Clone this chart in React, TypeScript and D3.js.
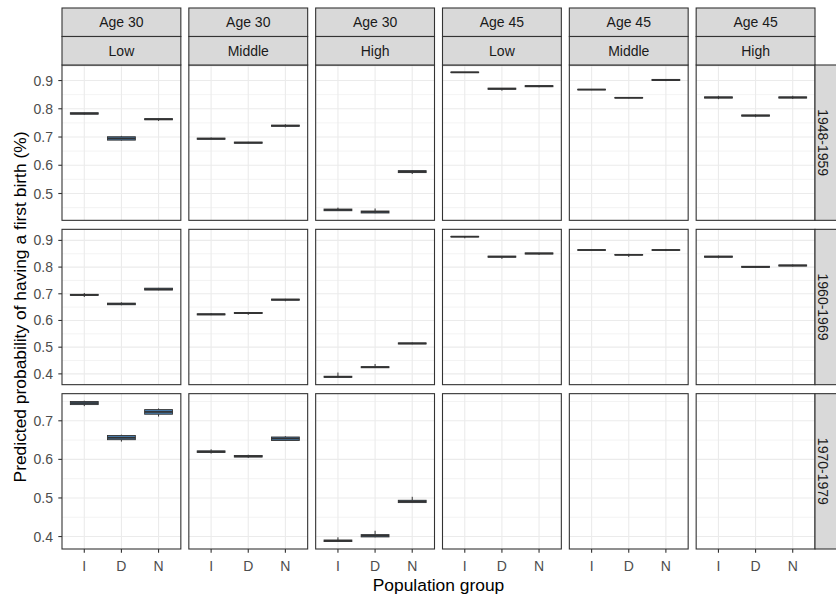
import * as d3 from "d3"
import { useRef, useEffect } from "react"

// facet labels
const ageLabels = ["Age 30", "Age 30", "Age 30", "Age 45", "Age 45", "Age 45"]
const eduLabels = ["Low", "Middle", "High", "Low", "Middle", "High"]
const cohorts = ["1948-1959", "1960-1969", "1970-1979"]
const groups = ["I", "D", "N"]

// major y ticks per cohort row
const yTicks = [
  [0.5, 0.6, 0.7, 0.8, 0.9],
  [0.4, 0.5, 0.6, 0.7, 0.8, 0.9],
  [0.4, 0.5, 0.6, 0.7],
]

type Box = [number, number, number, number, number] // lower, q1, median, q3, upper

// boxplot stats, one array per panel (groups I, D, N)
const cohort1948: (Box[] | null)[] = [
  [[0.779, 0.781, 0.783, 0.786, 0.787], [0.687, 0.689, 0.695, 0.701, 0.704], [0.757, 0.761, 0.763, 0.765, 0.766]],
  [[0.691, 0.692, 0.694, 0.696, 0.698], [0.676, 0.678, 0.68, 0.682, 0.683], [0.734, 0.738, 0.74, 0.742, 0.745]],
  [[0.438, 0.439, 0.442, 0.445, 0.45], [0.43, 0.431, 0.435, 0.438, 0.447], [0.569, 0.574, 0.577, 0.581, 0.583]],
  [[0.928, 0.928, 0.929, 0.93, 0.93], [0.864, 0.869, 0.871, 0.873, 0.873], [0.876, 0.878, 0.88, 0.882, 0.882]],
  [[0.866, 0.867, 0.868, 0.869, 0.87], [0.837, 0.838, 0.839, 0.84, 0.841], [0.898, 0.9, 0.902, 0.904, 0.904]],
  [[0.834, 0.838, 0.84, 0.842, 0.846], [0.77, 0.774, 0.776, 0.778, 0.78], [0.835, 0.838, 0.84, 0.842, 0.846]],
]
const cohort1960: (Box[] | null)[] = [
  [[0.688, 0.694, 0.696, 0.698, 0.703], [0.657, 0.659, 0.662, 0.665, 0.668], [0.713, 0.714, 0.717, 0.721, 0.722]],
  [[0.62, 0.621, 0.623, 0.625, 0.628], [0.621, 0.626, 0.628, 0.63, 0.632], [0.672, 0.676, 0.678, 0.68, 0.681]],
  [[0.386, 0.387, 0.389, 0.391, 0.405], [0.422, 0.423, 0.425, 0.427, 0.437], [0.511, 0.512, 0.514, 0.516, 0.518]],
  [[0.908, 0.913, 0.914, 0.915, 0.915], [0.831, 0.837, 0.839, 0.841, 0.841], [0.846, 0.849, 0.851, 0.853, 0.853]],
  [[0.862, 0.863, 0.864, 0.865, 0.865], [0.838, 0.845, 0.846, 0.847, 0.85], [0.86, 0.863, 0.864, 0.865, 0.868]],
  [[0.833, 0.837, 0.839, 0.841, 0.843], [0.797, 0.799, 0.801, 0.803, 0.803], [0.802, 0.804, 0.806, 0.808, 0.81]],
]
const cohort1970: (Box[] | null)[] = [
  [[0.738, 0.742, 0.746, 0.75, 0.752], [0.646, 0.651, 0.656, 0.662, 0.664], [0.711, 0.717, 0.723, 0.729, 0.732]],
  [[0.615, 0.618, 0.62, 0.622, 0.626], [0.604, 0.606, 0.608, 0.61, 0.612], [0.648, 0.649, 0.654, 0.658, 0.66]],
  [[0.386, 0.387, 0.389, 0.391, 0.398], [0.398, 0.399, 0.402, 0.405, 0.415], [0.487, 0.488, 0.491, 0.494, 0.503]],
  null,
  null,
  null,
]
const rows = [cohort1948, cohort1960, cohort1970]

export default function App() {
  const svgRef = useRef<SVGSVGElement>(null)

  useEffect(() => {
    if (!svgRef.current) return
    const width = 836
    const height = 598
    const svg = d3.select(svgRef.current)
    svg.selectAll("*").remove()
    svg.attr("width", width).attr("height", height)

    const font = "Arial, 'Liberation Sans', sans-serif"
    const left = 62
    const right = 815
    const top = 65
    const bottom = 549
    const gapX = 8
    const gapY = 9
    const nCol = 6
    const nRow = 3
    const pw = (right - left - gapX * (nCol - 1)) / nCol
    const ph = (bottom - top - gapY * (nRow - 1)) / nRow
    const stripH = 28.5
    const border = "#333333"
    const smallSize = "14px"
    const titleSize = "17.4px"

    rows.forEach((row, r) => {
      const y0 = top + r * (ph + gapY)
      const vals = row.flatMap((p) => (p ? p.flat() : []))
      const [mn, mx] = d3.extent(vals) as [number, number]
      const pad = (mx - mn) * 0.05
      const y = d3.scaleLinear().domain([mn - pad, mx + pad]).range([y0 + ph, y0])
      const majors = yTicks[r]
      const step = majors[1] - majors[0]
      const minors = d3
        .range(majors[0] - step / 2, majors[majors.length - 1] + step, step)
        .filter((v) => v > y.domain()[0] && v < y.domain()[1])

      for (let c = 0; c < nCol; c++) {
        const x0 = left + c * (pw + gapX)
        const x = d3.scalePoint<string>().domain(groups).range([x0, x0 + pw]).padding(0.6)
        const bw = x.step() * 0.75
        const g = svg.append("g")

        g.append("rect").attr("x", x0).attr("y", y0).attr("width", pw).attr("height", ph).attr("fill", "white")

        g.selectAll(".minor")
          .data(minors)
          .enter()
          .append("line")
          .attr("x1", x0)
          .attr("x2", x0 + pw)
          .attr("y1", (d) => y(d))
          .attr("y2", (d) => y(d))
          .attr("stroke", "#EBEBEB")
          .attr("stroke-width", 0.6)
        g.selectAll(".major")
          .data(majors)
          .enter()
          .append("line")
          .attr("x1", x0)
          .attr("x2", x0 + pw)
          .attr("y1", (d) => y(d))
          .attr("y2", (d) => y(d))
          .attr("stroke", "#EBEBEB")
          .attr("stroke-width", 1.1)
        g.selectAll(".vgrid")
          .data(groups)
          .enter()
          .append("line")
          .attr("x1", (d) => x(d)!)
          .attr("x2", (d) => x(d)!)
          .attr("y1", y0)
          .attr("y2", y0 + ph)
          .attr("stroke", "#EBEBEB")
          .attr("stroke-width", 1.1)

        const boxes = row[c]
        if (boxes) {
          boxes.forEach((b, i) => {
            const cx = x(groups[i])!
            const [lo, q1, med, q3, hi] = b
            g.append("line").attr("x1", cx).attr("x2", cx).attr("y1", y(q3)).attr("y2", y(hi))
              .attr("stroke", border).attr("stroke-width", 1)
            g.append("line").attr("x1", cx).attr("x2", cx).attr("y1", y(q1)).attr("y2", y(lo))
              .attr("stroke", border).attr("stroke-width", 1)
            g.append("rect")
              .attr("x", cx - bw / 2)
              .attr("y", y(q3))
              .attr("width", bw)
              .attr("height", y(q1) - y(q3))
              .attr("fill", "#4a7fb0")
              .attr("stroke", border)
              .attr("stroke-width", 0.9)
            g.append("line").attr("x1", cx - bw / 2).attr("x2", cx + bw / 2).attr("y1", y(med)).attr("y2", y(med))
              .attr("stroke", border).attr("stroke-width", 1.7)
          })
        }

        g.append("rect")
          .attr("x", x0)
          .attr("y", y0)
          .attr("width", pw)
          .attr("height", ph)
          .attr("fill", "none")
          .attr("stroke", border)
          .attr("stroke-width", 1.1)

        // top strips
        if (r === 0) {
          ;[ageLabels[c], eduLabels[c]].forEach((lab, k) => {
            const sy = 8 + k * stripH
            g.append("rect")
              .attr("x", x0)
              .attr("y", sy)
              .attr("width", pw)
              .attr("height", stripH)
              .attr("fill", "#D9D9D9")
              .attr("stroke", border)
              .attr("stroke-width", 1.1)
            g.append("text")
              .attr("x", x0 + pw / 2)
              .attr("y", sy + stripH / 2 + 5)
              .attr("text-anchor", "middle")
              .style("font-family", font)
              .style("font-size", smallSize)
              .style("fill", "#1A1A1A")
              .text(lab)
          })
        }

        // bottom x axis
        if (r === nRow - 1) {
          groups.forEach((gr) => {
            g.append("line").attr("x1", x(gr)!).attr("x2", x(gr)!).attr("y1", y0 + ph).attr("y2", y0 + ph + 3.7)
              .attr("stroke", border).attr("stroke-width", 1.1)
            g.append("text")
              .attr("x", x(gr)!)
              .attr("y", y0 + ph + 22)
              .attr("text-anchor", "middle")
              .style("font-family", font)
              .style("font-size", smallSize)
              .style("fill", "#4D4D4D")
              .text(gr)
          })
        }

        // left y axis
        if (c === 0) {
          majors.forEach((t) => {
            g.append("line").attr("x1", x0 - 3.7).attr("x2", x0).attr("y1", y(t)).attr("y2", y(t))
              .attr("stroke", border).attr("stroke-width", 1.1)
            g.append("text")
              .attr("x", x0 - 9)
              .attr("y", y(t) + 5)
              .attr("text-anchor", "end")
              .style("font-family", font)
              .style("font-size", smallSize)
              .style("fill", "#4D4D4D")
              .text(d3.format(".1f")(t))
          })
        }
      }

      // right strip
      svg.append("rect")
        .attr("x", right)
        .attr("y", y0)
        .attr("width", 26)
        .attr("height", ph)
        .attr("fill", "#D9D9D9")
        .attr("stroke", border)
        .attr("stroke-width", 1.1)
      svg.append("text")
        .attr("transform", `translate(${right + 3},${y0 + ph / 2}) rotate(90)`)
        .attr("text-anchor", "middle")
        .style("font-family", font)
        .style("font-size", smallSize)
        .style("fill", "#1A1A1A")
        .text(cohorts[r])
    })

    svg.append("text")
      .attr("x", (left + right) / 2)
      .attr("y", 591)
      .attr("text-anchor", "middle")
      .style("font-family", font)
      .style("font-size", titleSize)
      .style("fill", "black")
      .text("Population group")

    svg.append("text")
      .attr("transform", `translate(26,${(top + bottom) / 2}) rotate(-90)`)
      .attr("text-anchor", "middle")
      .style("font-family", font)
      .style("font-size", titleSize)
      .style("fill", "black")
      .text("Predicted probability of having a first birth (%)")
  }, [])

  return (
    <div style={{ position: "absolute", left: 0, top: 0 }}>
      <svg ref={svgRef} style={{ display: "block" }}></svg>
    </div>
  )
}
